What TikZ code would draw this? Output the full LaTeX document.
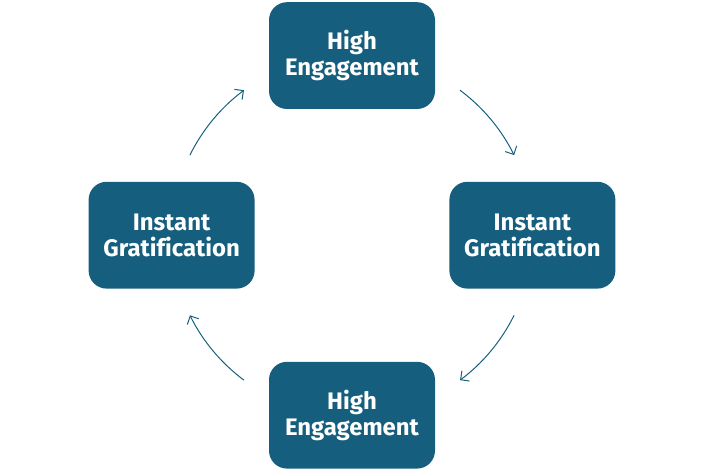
\documentclass[tikz,border=0pt]{standalone}
\usepackage{fontspec}
\setmainfont[Ligatures=NoCommon]{Fira Sans}
\usepackage{tikz}
\usetikzlibrary{arrows.meta}
\usetikzlibrary{shapes,positioning,calc}
\definecolor{boxblue}{HTML}{155E7D}

\begin{document}
\begin{tikzpicture}[>={Straight Barb[length=1.6mm,width=3.2mm]},
	stage/.style={rectangle, rounded corners=0.45cm, fill=boxblue, text=white,
		minimum width=4.15cm, minimum height=2.67cm, align=center,
		font=\fontsize{17}{18.5}\selectfont\bfseries},
	cyc/.style={->, draw=boxblue, line width=0.7pt}]
			\useasboundingbox (0,0) rectangle (17.6,11.8);
			\coordinate (c) at (8.8,5.92);
			\node[stage] (top) at (8.8,10.41) {High\\Engagement};
			\node[stage] (right) at (13.31,5.92) {Instant\\Gratification};
			\node[stage] (bottom) at (8.8,1.42) {High\\Engagement};
			\node[stage] (left) at (4.29,5.92) {Instant\\Gratification};
			\draw[cyc] ([shift={(153.7:4.52)}]c) arc[start angle=153.7, end angle=126.7, radius=4.52];
			\draw[cyc] ([shift={(53.3:4.52)}]c) arc[start angle=53.3, end angle=26.3, radius=4.52];
			\draw[cyc] ([shift={(-26.3:4.52)}]c) arc[start angle=-26.3, end angle=-53.3, radius=4.52];
			\draw[cyc] ([shift={(-126.7:4.52)}]c) arc[start angle=-126.7, end angle=-153.7, radius=4.52];
			\end{tikzpicture}
\end{document}
